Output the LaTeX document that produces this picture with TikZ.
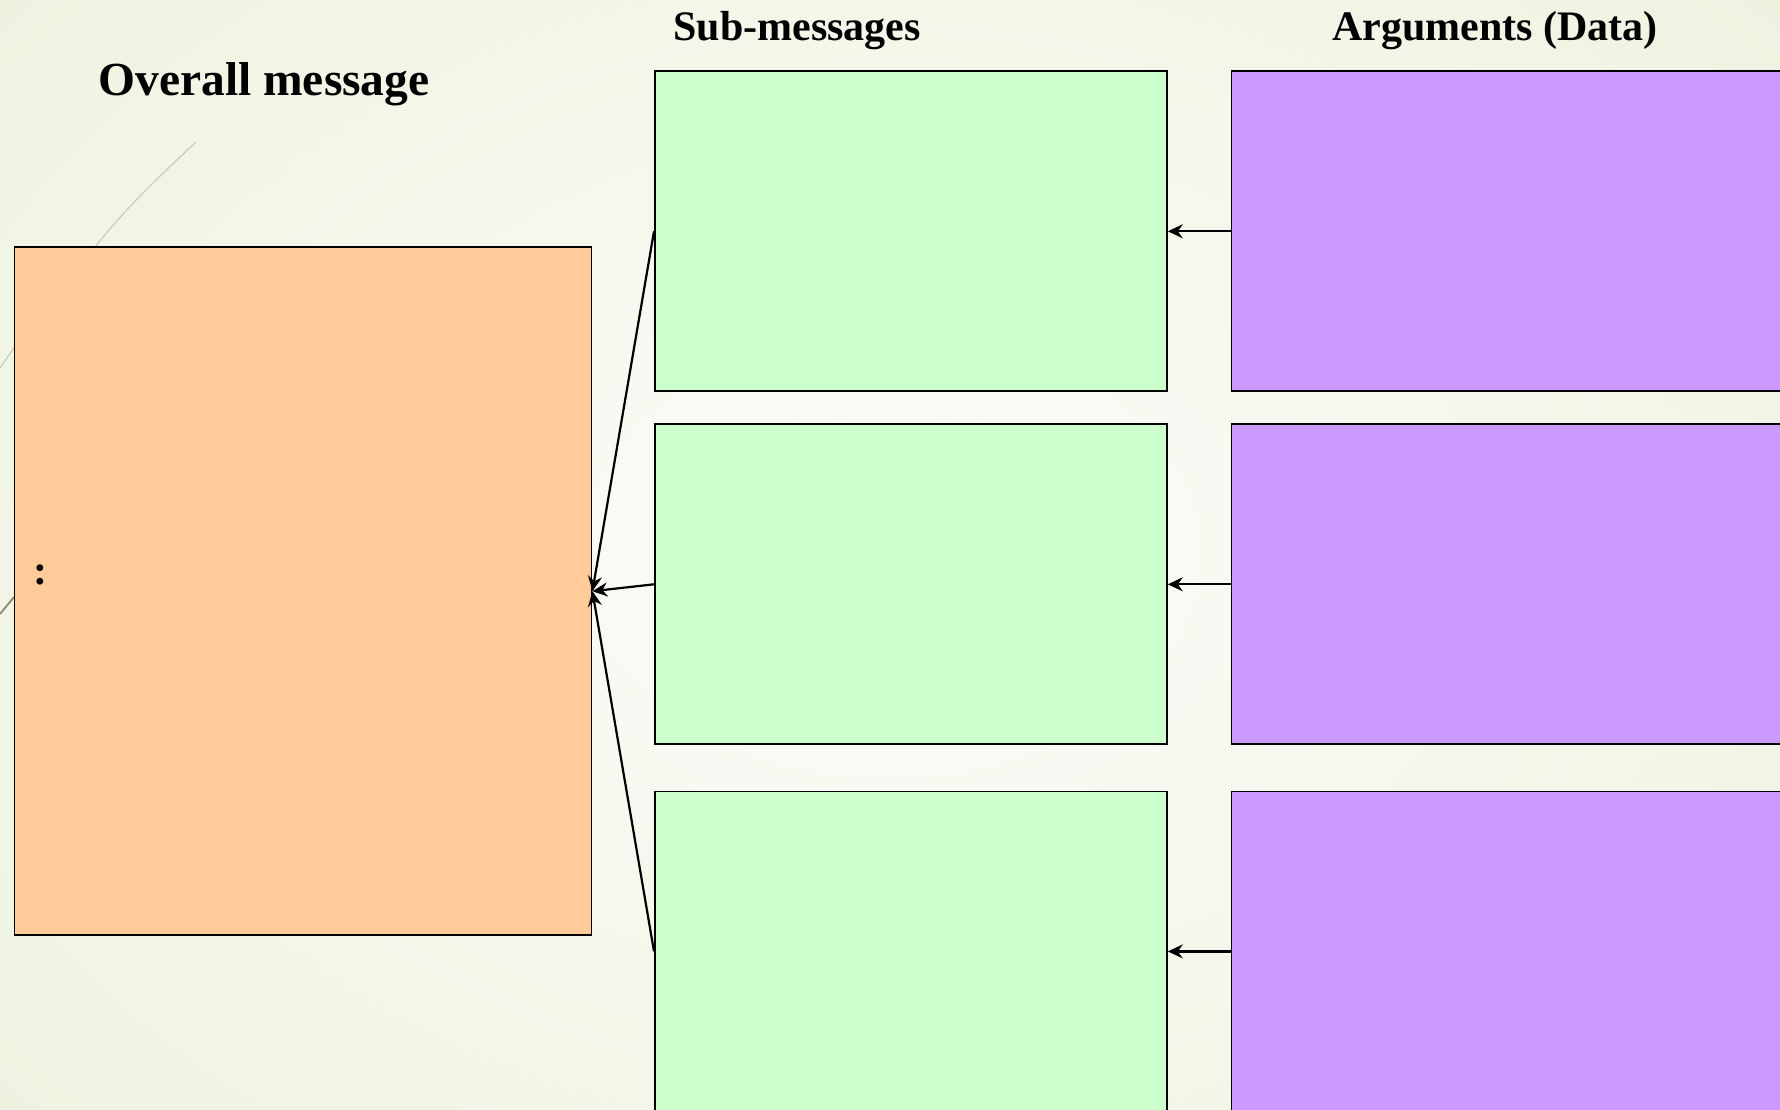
\documentclass[tikz,border=0pt]{standalone}
\usepackage{fontspec}
\setmainfont{Liberation Serif}
\usetikzlibrary{arrows.meta}
\definecolor{orangefill}{HTML}{FFCC99}
\definecolor{greenfill}{HTML}{CCFFCC}
\definecolor{purplefill}{HTML}{CC99FF}
\definecolor{bgin}{HTML}{FCFCF9}
\definecolor{bgout}{HTML}{EEF3E0}
\definecolor{wisp}{HTML}{C9CBBB}
\definecolor{wispdark}{HTML}{8A8A72}
\tikzset{
  box/.style={draw=black, line width=1.8pt, rectangle, inner sep=0pt, anchor=north west},
  obox/.style={box, fill=orangefill, minimum width=577pt, minimum height=688pt},
  gbox/.style={box, fill=greenfill, minimum width=512pt, minimum height=320pt},
  pbox/.style={box, fill=purplefill, minimum width=620pt, minimum height=320pt},
  arr/.style={line width=2.2pt, -{Stealth[length=15pt, width=14pt, inset=5pt]}},
  title/.style={font=\bfseries\fontsize{42}{46}\selectfont, anchor=base, inner sep=0pt},
}
\begin{document}
\begin{tikzpicture}[x=1pt, y=-1pt]
\useasboundingbox (0,0) rectangle (1780,1110);
\clip (0,0) rectangle (1780,1110);
\shade[inner color=bgin, outer color=bgout] (-300,-300) rectangle (2080,1410);
% faint theme wisps
\draw[wisp, line width=1.2pt] (196,142) .. controls (150,185) and (120,215) .. (96,246);
\draw[wisp, line width=1.2pt] (0,368) -- (14,348);
\draw[wispdark, line width=1.8pt] (0,614) -- (14,597);
% boxes
\node[obox] (om) at (13.6,246.3) {};
\node[gbox] (g1) at (654,70.4) {};
\node[gbox] (g2) at (654,423.4) {};
\node[gbox] (g3) at (654,790.5) {};
\node[pbox] (p1) at (1230.5,70.4) {};
\node[pbox] (p2) at (1230.5,423.4) {};
\node[pbox] (p3) at (1230.5,790.5) {};
% titles
\node[title, font=\bfseries\fontsize{47.5}{50}\selectfont] (t1) at (264,96) {Overall message};
\node[title] (t2) at (797,41) {Sub-messages};
\node[title] (t3) at (1495,41) {Arguments (Data)};
\node[font=\bfseries\fontsize{42}{46}\selectfont, anchor=base, inner sep=0pt] (dots) at (40,584) {:};
% connectors
\draw[arr] (p1.west) -- (g1.east);
\draw[arr] (p2.west) -- (g2.east);
\draw[arr] (p3.west) -- (g3.east);
\draw[arr] (g1.west) -- (om.east);
\draw[arr] (g2.west) -- (om.east);
\draw[arr] (g3.west) -- (om.east);
\end{tikzpicture}
\end{document}
